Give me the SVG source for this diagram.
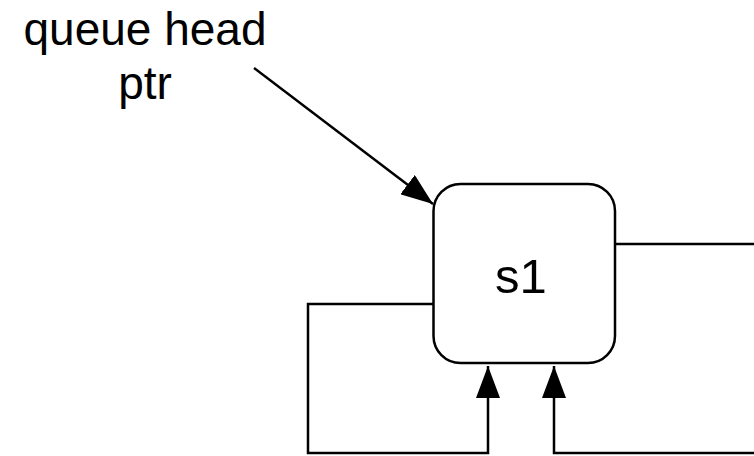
<svg xmlns="http://www.w3.org/2000/svg" width="754" height="456" viewBox="0 0 754 456">
  <defs>
    <style>
      .label { font-family: "Liberation Sans", Arial, Helvetica, sans-serif; fill: #000; text-anchor: middle; font-size: 46px; }
      .edge { fill: none; stroke: #000; stroke-width: 2.5; }
      .node { fill: #fff; stroke: #000; stroke-width: 2.5; }
    </style>
    <marker id="arrow" viewBox="0 0 32 24" refX="32" refY="12" markerWidth="32" markerHeight="24" markerUnits="userSpaceOnUse" orient="auto">
      <path d="M0,0 L32,12 L0,24 Z" fill="#000"/>
    </marker>
  </defs>

  <g id="connectors">
    <!-- pointer into the queue head -->
    <path class="edge" d="M254,68 L433,204" marker-end="url(#arrow)"/>
    <!-- outgoing link on the right -->
    <path class="edge" d="M615,244 L754,244"/>
    <!-- self loop from the left side back to the bottom -->
    <path class="edge" d="M433,304 L308,304 L308,453 L488,453 L488,366" marker-end="url(#arrow)"/>
    <!-- return link from the right into the bottom -->
    <path class="edge" d="M754,453 L554,453 L554,366" marker-end="url(#arrow)"/>
  </g>

  <g id="head-label">
    <text class="label" x="145" y="45">queue head</text>
    <text class="label" x="145" y="99">ptr</text>
  </g>

  <g id="s1">
    <rect class="node" x="433.5" y="184" width="181.5" height="179" rx="27" ry="27"/>
    <text class="label" x="521" y="293" style="font-size:49px">s1</text>
  </g>
</svg>
